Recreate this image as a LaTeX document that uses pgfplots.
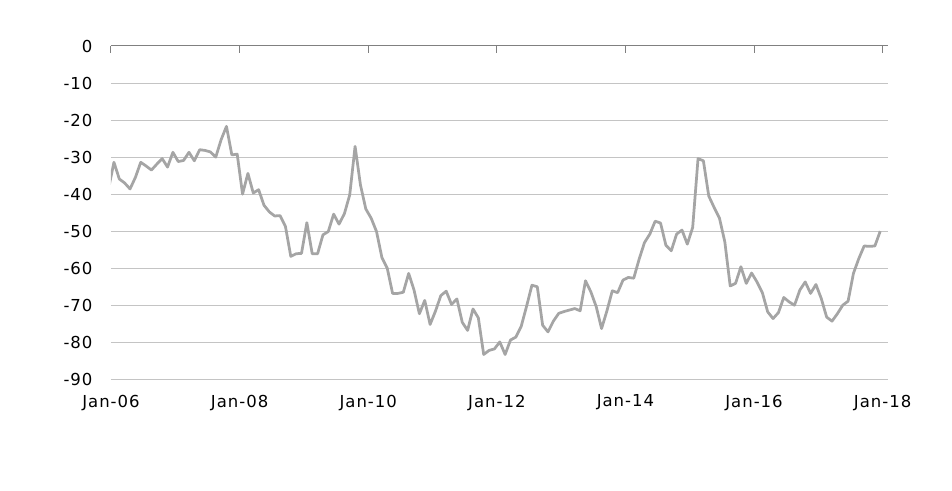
\documentclass[border=0pt]{standalone}
\usepackage{pgfplots}
\pgfplotsset{compat=1.18}
\usepackage{pgfplotstable}
\usepackage{fontspec}
\newfontfamily\ingfont{DejaVu Sans}[LetterSpace=6]
\definecolor{linegray}{HTML}{A5A5A5}
\definecolor{gridgray}{HTML}{C4C4C4}
\definecolor{axisgray}{HTML}{808080}
\pgfplotstableread{
m v
-0.45 -38.5
0.55 -31.4
1.55 -35.9
2.55 -37.0
3.55 -38.6
4.55 -35.5
5.55 -31.4
6.55 -32.4
7.55 -33.5
8.55 -31.9
9.55 -30.4
10.55 -32.7
11.55 -28.7
12.55 -31.2
13.55 -30.9
14.55 -28.7
15.55 -31.0
16.55 -28.0
17.55 -28.2
18.55 -28.6
19.55 -30.0
20.55 -25.3
21.55 -21.7
22.55 -29.4
23.55 -29.2
24.55 -40.0
25.55 -34.4
26.55 -39.7
27.55 -38.8
28.55 -43.0
29.55 -44.8
30.55 -45.9
31.55 -45.8
32.55 -48.7
33.55 -56.8
34.55 -56.1
35.55 -56.0
36.55 -47.7
37.55 -56.1
38.55 -56.1
39.55 -51.0
40.55 -50.1
41.55 -45.4
42.55 -48.1
43.55 -45.3
44.55 -40.2
45.55 -27.1
46.55 -37.5
47.55 -44.0
48.55 -46.5
49.55 -50.1
50.55 -57.1
51.55 -60.0
52.55 -66.8
53.55 -66.8
54.55 -66.5
55.55 -61.4
56.55 -65.9
57.55 -72.3
58.55 -68.7
59.55 -75.2
60.55 -71.6
61.55 -67.4
62.55 -66.2
63.55 -69.8
64.55 -68.3
65.55 -74.6
66.55 -76.8
67.55 -71.0
68.55 -73.4
69.55 -83.3
70.55 -82.2
71.55 -81.8
72.55 -79.9
73.55 -83.3
74.55 -79.4
75.55 -78.6
76.55 -75.7
77.55 -70.3
78.55 -64.6
79.55 -65.0
80.55 -75.4
81.55 -77.2
82.55 -74.3
83.55 -72.2
84.55 -71.7
85.55 -71.3
86.55 -70.9
87.55 -71.5
88.55 -63.4
89.55 -66.4
90.55 -70.4
91.55 -76.3
92.55 -71.5
93.55 -66.1
94.55 -66.6
95.55 -63.2
96.55 -62.5
97.55 -62.7
98.55 -57.6
99.55 -53.1
100.55 -50.8
101.55 -47.3
102.55 -47.8
103.55 -53.8
104.55 -55.3
105.55 -50.8
106.55 -49.7
107.55 -53.5
108.55 -49.0
109.55 -30.4
110.55 -31.0
111.55 -40.5
112.55 -43.6
113.55 -46.5
114.55 -52.9
115.55 -64.8
116.55 -64.1
117.55 -59.6
118.55 -64.1
119.55 -61.3
120.55 -63.7
121.55 -66.6
122.55 -71.8
123.55 -73.6
124.55 -72.0
125.55 -67.9
126.55 -69.1
127.55 -70.0
128.55 -65.9
129.55 -63.7
130.55 -66.8
131.55 -64.4
132.55 -68.2
133.55 -73.2
134.55 -74.3
135.55 -72.3
136.55 -70.0
137.55 -68.9
138.55 -61.4
139.55 -57.4
140.55 -54.0
141.55 -54.1
142.55 -54.0
143.55 -50.0
}\datatable
\begin{document}
\begin{tikzpicture}
\useasboundingbox (-111bp,-111.7bp) rectangle (841bp,379.3bp);
\begin{axis}[
  at={(0,0)}, anchor=south west,
  scale only axis,
  width=777bp, height=333.3bp,
  xmin=0, xmax=145,
  ymin=-90, ymax=0,
  xtick={0,24,48,72,96,120,144},
  xticklabels={Jan-06,Jan-08,Jan-10,Jan-12,Jan-14,Jan-16,Jan-18},
  ytick={-90,-80,-70,-60,-50,-40,-30,-20,-10,0},
  yticklabels={-90,-80,-70,-60,-50,-40,-30,-20,-10,0},
  axis line style={draw=none},
  xtick pos=right,
  xticklabel pos=left,
  tick align=inside,
  major tick length=7bp,
  x tick style={draw=axisgray, line width=1bp},
  y tick style={draw=none},
  ymajorgrids,
  grid style={draw=gridgray, line width=1bp},
  ticklabel style={font=\ingfont\fontsize{16.5bp}{19bp}\selectfont, text=black},
  xticklabel style={yshift=-12bp},
  yticklabel style={xshift=-15bp},
  clip=true,
]
\addplot[color=linegray, line width=2.75bp, line join=round] table[x=m, y=v] {\datatable};
\draw[axisgray, line width=1bp] (axis cs:0,0) -- (axis cs:145,0);
\end{axis}
\end{tikzpicture}
\end{document}
